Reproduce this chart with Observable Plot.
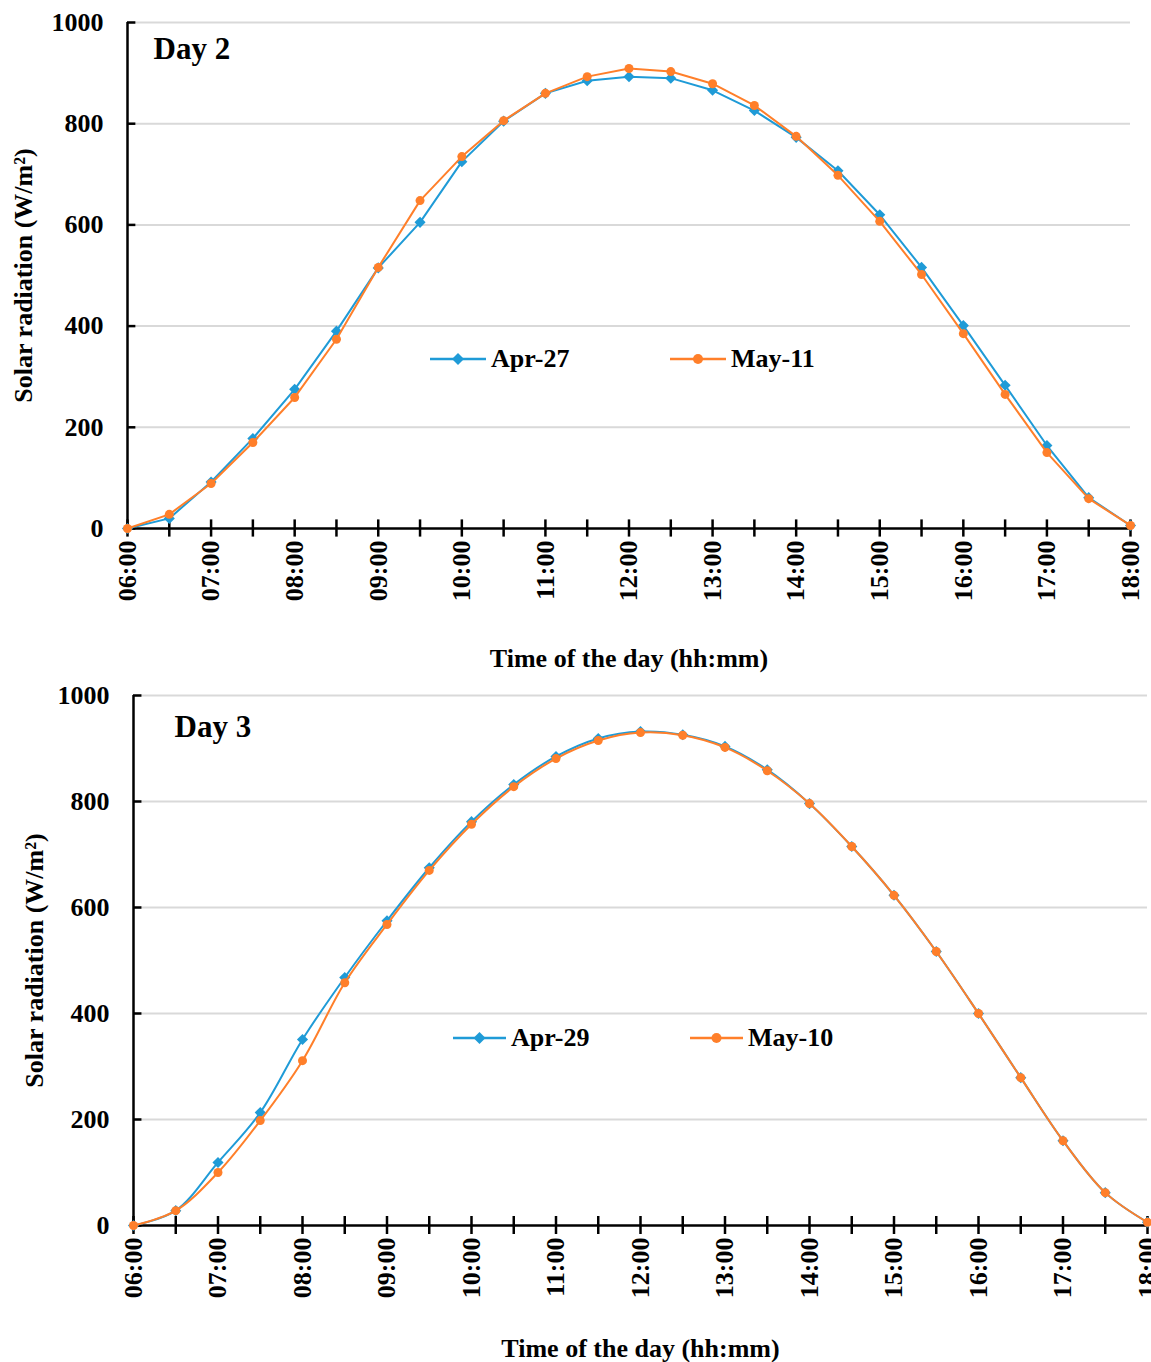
<!DOCTYPE html>
<html><head><meta charset="utf-8">
<script src="https://cdn.jsdelivr.net/npm/d3@7"></script>
<script src="https://cdn.jsdelivr.net/npm/@observablehq/plot@0.6"></script>
<style>
body{margin:0;background:#fff;}
.panel{position:relative;width:1151px;overflow:hidden;}
.panel svg{display:block;}
.legend{position:absolute;font:bold 26px "Liberation Serif","Times New Roman",serif;display:flex;align-items:center;color:#000;white-space:nowrap;}
.legend span{margin-left:5px;}
</style></head><body><div id="wrap"></div>
<script>
// ---- data ----
const timeLabels = ["06:00","06:30","07:00","07:30","08:00","08:30","09:00","09:30","10:00","10:30","11:00","11:30","12:00","12:30","13:00","13:30","14:00","14:30","15:00","15:30","16:00","16:30","17:00","17:30","18:00"];
const hourTicks = [6,7,8,9,10,11,12,13,14,15,16,17,18];
const yTicks = [0,200,400,600,800,1000];

const day2Names = ["Apr-27","May-11"];
const day2Apr27 = [0,20,92,178,275,390,515,605,725,805,860,885,893,890,866,826,773,707,620,516,401,283,164,61,6];
const day2May11 = [0,28,89,170,259,374,516,648,735,806,860,893,909,903,879,836,775,698,607,502,385,265,150,59,6];

const day3Names = ["Apr-29","May-10"];
const day3Apr29 = [0,28,119,213,351,468,575,675,762,832,885,919,932,926,904,860,796,715,623,517,400,279,160,62,6];
const day3May10 = [0,28,100,198,311,458,568,670,757,828,881,915,930,925,902,858,796,715,623,517,400,279,160,62,6];

const BLUE = "#1F9BD7", ORANGE = "#FF7F2A";
const FONT = '"Liberation Serif","Times New Roman",serif';
const toHour = s => { const [h,m] = s.split(":").map(Number); return h + m/60; };
const times = timeLabels.map(toHour);
const fmt = h => d3.format("02")(h) + ":00";

function makePanel(o) {
  const A = times.map((t,i) => ({t, v: o.a[i]}));
  const B = times.map((t,i) => ({t, v: o.b[i]}));
  const chart = Plot.plot({
    width: 1151, height: o.height,
    marginTop: o.mt, marginBottom: o.mb, marginLeft: o.ml, marginRight: o.mr,
    style: {fontFamily: FONT, fontSize: "26px", fontWeight: "bold", color: "#000", background: "#fff", overflow: "visible"},
    x: {domain: [6, 18]},
    y: {domain: [0, 1000]},
    marks: [
      Plot.ruleY(yTicks.filter(d => d > 0), {stroke: "#d9d9d9", strokeWidth: 2}),
      Plot.axisY({ticks: yTicks, tickSize: 0, tickPadding: 24, tickFormat: d => String(d), label: "Solar radiation (W/m²)", labelAnchor: "center", labelArrow: "none", labelOffset: o.yLabelOffset}),
      Plot.axisX({ticks: hourTicks, tickSize: 0, tickPadding: 12, tickRotate: -90, tickFormat: fmt, label: "Time of the day (hh:mm)", labelAnchor: "center", labelArrow: "none", labelOffset: o.xLabelOffset}),
      Plot.ruleX(times, {x: d => d, y1: -17, y2: 17, stroke: "#000", strokeWidth: 2.5}),
      Plot.ruleY(yTicks, {y: d => d, x1: 6, x2: 6.1, stroke: "#000", strokeWidth: 2.5}),
      Plot.ruleY([0], {stroke: "#000", strokeWidth: 2.5}),
      Plot.ruleX([6], {stroke: "#000", strokeWidth: 2.5}),
      Plot.line(A, {x: "t", y: "v", stroke: BLUE, strokeWidth: 2, curve: o.curve}),
      Plot.dot(A, {x: "t", y: "v", symbol: "diamond2", fill: BLUE, stroke: "none", r: 5}),
      Plot.line(B, {x: "t", y: "v", stroke: ORANGE, strokeWidth: 2, curve: o.curve}),
      Plot.dot(B, {x: "t", y: "v", symbol: "circle", fill: ORANGE, stroke: "none", r: 4.5}),
      Plot.text([o.title], {frameAnchor: "top-left", dx: o.titleDx, dy: o.titleDy, lineAnchor: "top", textAnchor: "start", fontSize: 31, fontWeight: "bold", fill: "#000"})
    ]
  });
  const div = document.createElement("div");
  div.className = "panel";
  div.style.height = o.height + "px";
  div.appendChild(chart);
  o.legend.forEach((L, i) => {
    const el = document.createElement("div");
    el.className = "legend";
    el.style.left = L.left + "px";
    el.style.top = (L.cy - 16) + "px";
    el.style.height = "32px";
    const w = L.w;
    const marker = i === 0
      ? `<path d="M${w/2},${16-6} L${w/2+6},16 L${w/2},${16+6} L${w/2-6},16 Z" fill="${BLUE}"/>`
      : `<circle cx="${w/2}" cy="16" r="5" fill="${ORANGE}"/>`;
    el.innerHTML = `<svg width="${w}" height="32"><line x1="0" x2="${w}" y1="16" y2="16" stroke="${i === 0 ? BLUE : ORANGE}" stroke-width="2.5"/>${marker}</svg><span>${o.names[i]}</span>`;
    div.appendChild(el);
  });
  return div;
}

const wrap = document.getElementById("wrap");
wrap.appendChild(makePanel({
  height: 680, mt: 22, mb: 152, ml: 127, mr: 21,
  a: day2Apr27, b: day2May11, names: day2Names, title: "Day 2",
  titleDx: 26, titleDy: 14, curve: "linear",
  yLabelOffset: 114, xLabelOffset: 138,
  legend: [{left: 430, cy: 359, w: 56}, {left: 670, cy: 359, w: 56}]
}));
wrap.appendChild(makePanel({
  height: 682, mt: 15, mb: 137, ml: 133, mr: 4,
  a: day3Apr29, b: day3May10, names: day3Names, title: "Day 3",
  titleDx: 41, titleDy: 19, curve: "catmull-rom",
  yLabelOffset: 109, xLabelOffset: 131,
  legend: [{left: 453, cy: 358, w: 53}, {left: 690, cy: 358, w: 53}]
}));
</script>
</body></html>
